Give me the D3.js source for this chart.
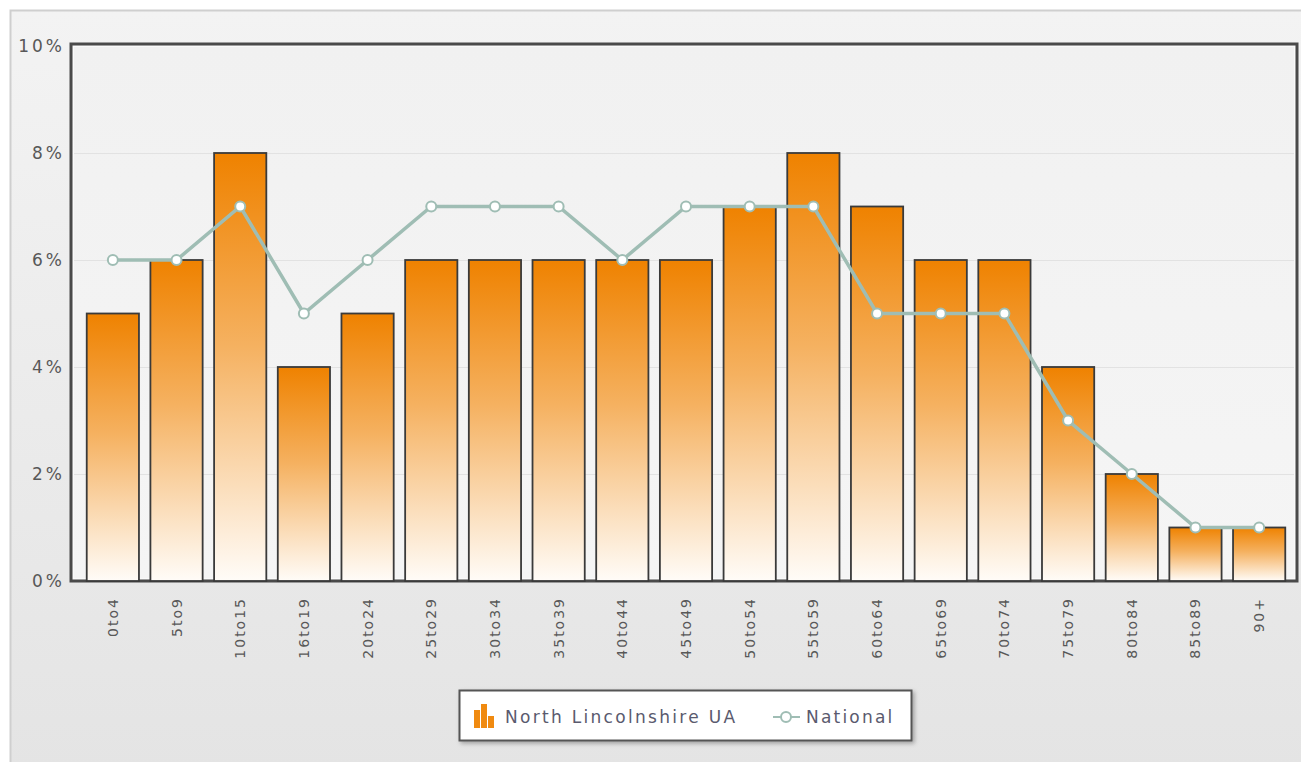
<!DOCTYPE html>
<html>
<head>
    <title>Age profile</title>
    <script src="https://d3js.org/d3.v7.min.js"></script>
    <style>
        body { margin: 0; background: #fff; }
        svg text { font-family: "DejaVu Sans", Verdana, sans-serif; }
    </style>
</head>
<body>
<svg width="1301" height="762"></svg>
<script>
    // chart data
    var ageBands = ["0to4", "5to9", "10to15", "16to19", "20to24", "25to29", "30to34", "35to39", "40to44",
        "45to49", "50to54", "55to59", "60to64", "65to69", "70to74", "75to79", "80to84", "85to89", "90+"];
    var localValues = [5, 6, 8, 4, 5, 6, 6, 6, 6, 6, 7, 8, 7, 6, 6, 4, 2, 1, 1];
    var nationalValues = [6, 6, 7, 5, 6, 7, 7, 7, 6, 7, 7, 7, 5, 5, 5, 3, 2, 1, 1];
    var yTicks = [0, 2, 4, 6, 8, 10];
    var seriesNames = ["North Lincolnshire UA", "National"];

    var svg = d3.select("svg");
    var defs = svg.append("defs");

    var bgGrad = defs.append("linearGradient").attr("id", "bg").attr("x1", 0).attr("y1", 0).attr("x2", 0).attr("y2", 1);
    bgGrad.append("stop").attr("offset", "0%").attr("stop-color", "#f3f3f3");
    bgGrad.append("stop").attr("offset", "100%").attr("stop-color", "#e4e4e4");

    var plotGrad = defs.append("linearGradient").attr("id", "plotbg").attr("x1", 0).attr("y1", 0).attr("x2", 0).attr("y2", 1);
    plotGrad.append("stop").attr("offset", "0%").attr("stop-color", "#f1f1f1");
    plotGrad.append("stop").attr("offset", "100%").attr("stop-color", "#f5f5f5");

    var barGrad = defs.append("linearGradient").attr("id", "bar").attr("x1", 0).attr("y1", 0).attr("x2", 0).attr("y2", 1);
    barGrad.append("stop").attr("offset", "0%").attr("stop-color", "#ef8200");
    barGrad.append("stop").attr("offset", "45%").attr("stop-color", "#f5b160");
    barGrad.append("stop").attr("offset", "100%").attr("stop-color", "#fffcf8");

    var shadow = defs.append("filter").attr("id", "shadow").attr("x", "-5%").attr("y", "-20%").attr("width", "115%").attr("height", "160%");
    shadow.append("feDropShadow").attr("dx", 2).attr("dy", 2).attr("stdDeviation", 2).attr("flood-color", "#000").attr("flood-opacity", 0.3);

    // outer panel
    svg.append("rect").attr("x", 10.5).attr("y", 10.5).attr("width", 1300).attr("height", 760)
        .attr("fill", "url(#bg)").attr("stroke", "#cfcfcf").attr("stroke-width", 2);

    var plotLeft = 71, plotTop = 44, plotRight = 1297, plotBottom = 581;

    var x = d3.scaleBand().domain(ageBands).range([81, 1291]).paddingInner(0.18).paddingOuter(0.09);
    var y = d3.scaleLinear().domain([0, 10]).range([plotBottom, 46]);

    // plot area
    svg.append("rect").attr("x", plotLeft).attr("y", plotTop).attr("width", plotRight - plotLeft).attr("height", plotBottom - plotTop)
        .attr("fill", "url(#plotbg)").attr("stroke", "#4a4a4a").attr("stroke-width", 3);
    svg.append("rect").attr("x", plotLeft + 2.5).attr("y", plotTop + 2.5).attr("width", plotRight - plotLeft - 5).attr("height", plotBottom - plotTop - 5)
        .attr("fill", "none").attr("stroke", "#fafafa").attr("stroke-width", 1);

    // gridlines
    svg.append("g").selectAll("line").data(yTicks.filter(function(d) { return d > 0 && d < 10; })).enter()
        .append("line")
        .attr("x1", plotLeft + 3).attr("x2", plotRight - 3)
        .attr("y1", function(d) { return Math.round(y(d)) + 0.5; })
        .attr("y2", function(d) { return Math.round(y(d)) + 0.5; })
        .attr("stroke", "#e2e2e2").attr("stroke-width", 1);

    // y axis labels
    svg.append("g").selectAll("text").data(yTicks).enter()
        .append("text")
        .attr("x", 65).attr("y", function(d) { return y(d) + 6; })
        .attr("text-anchor", "end")
        .attr("font-size", 17).attr("letter-spacing", 3)
        .attr("fill", "#585858")
        .text(function(d) { return d + "%"; });

    // bars
    svg.append("g").selectAll("rect").data(localValues).enter()
        .append("rect")
        .attr("x", function(d, i) { return x(ageBands[i]); })
        .attr("y", function(d) { return y(d); })
        .attr("width", x.bandwidth())
        .attr("height", function(d) { return y(0) - y(d); })
        .attr("fill", "url(#bar)")
        .attr("stroke", "#3a3a3a").attr("stroke-width", 1.8);

    // national line
    var line = d3.line()
        .x(function(d, i) { return x(ageBands[i]) + x.bandwidth() / 2; })
        .y(function(d) { return y(d); });
    svg.append("path").datum(nationalValues)
        .attr("d", line)
        .attr("fill", "none").attr("stroke", "#9fbdb4").attr("stroke-width", 3.5);
    svg.append("g").selectAll("circle").data(nationalValues).enter()
        .append("circle")
        .attr("cx", function(d, i) { return x(ageBands[i]) + x.bandwidth() / 2; })
        .attr("cy", function(d) { return y(d); })
        .attr("r", 5)
        .attr("fill", "#fff").attr("stroke", "#9fbdb4").attr("stroke-width", 2);

    // x axis labels
    svg.append("g").selectAll("text").data(ageBands).enter()
        .append("text")
        .attr("transform", function(d) {
            return "translate(" + (x(d) + x.bandwidth() / 2 + 5) + ",597) rotate(-90)";
        })
        .attr("text-anchor", "end")
        .attr("font-size", 14).attr("letter-spacing", 2)
        .attr("fill", "#585858")
        .text(function(d) { return d; });

    // legend
    var legend = svg.append("g");
    legend.append("rect").attr("x", 459.5).attr("y", 690.5).attr("width", 452).attr("height", 50)
        .attr("fill", "#fff").attr("stroke", "#555").attr("stroke-width", 2).attr("filter", "url(#shadow)");
    var icon = legend.append("g");
    [[474, 710, 18], [481, 704, 24], [488, 716, 12]].forEach(function(b) {
        icon.append("rect").attr("x", b[0]).attr("y", b[1]).attr("width", 6).attr("height", b[2])
            .attr("fill", "#f08a10");
    });
    legend.append("text").attr("x", 505).attr("y", 723).attr("font-size", 17).attr("letter-spacing", 2.3)
        .attr("fill", "#5a5a6e").text(seriesNames[0]);
    legend.append("line").attr("x1", 773).attr("x2", 800).attr("y1", 717).attr("y2", 717)
        .attr("stroke", "#9fbdb4").attr("stroke-width", 2);
    legend.append("circle").attr("cx", 786).attr("cy", 717).attr("r", 5)
        .attr("fill", "#fff").attr("stroke", "#9fbdb4").attr("stroke-width", 2);
    legend.append("text").attr("x", 806).attr("y", 723).attr("font-size", 17).attr("letter-spacing", 2.2)
        .attr("fill", "#5a5a6e").text(seriesNames[1]);
</script>
</body>
</html>
